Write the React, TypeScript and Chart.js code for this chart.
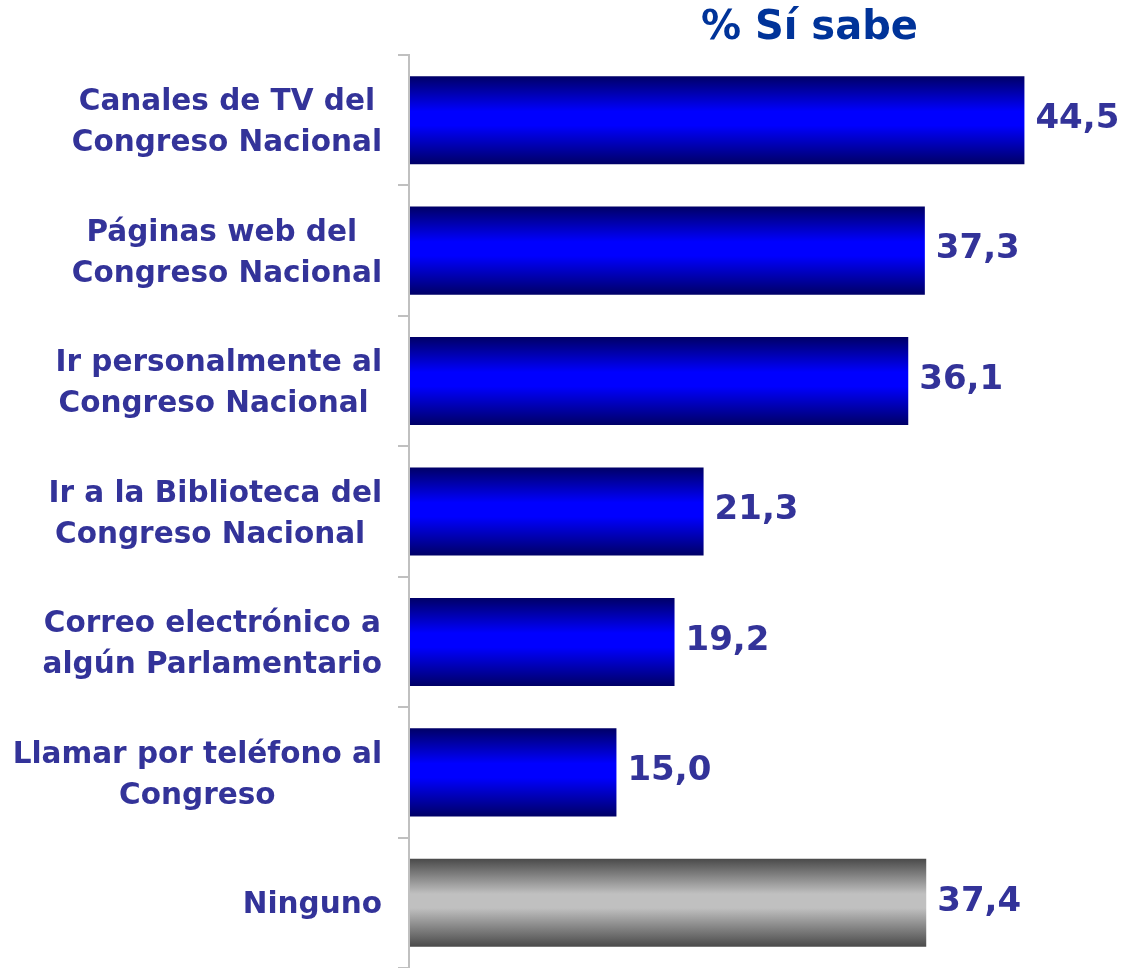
import React, { useEffect, useRef } from "react";
import { Chart, registerables } from "chart.js";

Chart.register(...registerables);

const categories: string[][] = [
  ["Canales de TV del", "Congreso Nacional"],
  ["Páginas web del ", "Congreso Nacional"],
  ["Ir personalmente al", "Congreso Nacional "],
  ["Ir a la Biblioteca del", "Congreso Nacional "],
  ["Correo electrónico a", "algún Parlamentario"],
  ["Llamar por teléfono al", "Congreso"],
  ["Ninguno"],
];
const values: number[] = [44.5, 37.3, 36.1, 21.3, 19.2, 15.0, 37.4];
const barKinds: string[] = ["blue", "blue", "blue", "blue", "blue", "blue", "gray"];
const titleText = "% Sí sabe";

const FONT = "'DejaVu Sans', Verdana, sans-serif";
const LABEL_COLOR = "#333399";
const TITLE_COLOR = "#003399";
const BAR_PCT = 0.675;
const X_MAX = 51.7;

const fmt = (v: number) => v.toFixed(1).replace(".", ",");

const gradientStops: Record<string, string[]> = {
  blue: ["#000066", "#0000ff", "#000066"],
  gray: ["#4a4a4a", "#c0c0c0", "#4a4a4a"],
};

const labelsPlugin = {
  id: "customLabels",
  afterDatasetsDraw(chart: any) {
    const { ctx } = chart;
    const meta = chart.getDatasetMeta(0);
    ctx.save();
    ctx.font = `bold 34px ${FONT}`;
    ctx.fillStyle = LABEL_COLOR;
    ctx.textAlign = "left";
    ctx.textBaseline = "middle";
    meta.data.forEach((bar: any, i: number) => {
      ctx.fillText(fmt(values[i]), bar.x + 11, bar.y - 1);
    });
    ctx.restore();
  },
  afterDraw(chart: any) {
    const { ctx, chartArea } = chart;
    const yScale = chart.scales.y;
    ctx.save();
    // category labels: block right-aligned, lines centred within block
    ctx.font = `bold 29.5px ${FONT}`;
    ctx.fillStyle = LABEL_COLOR;
    ctx.textBaseline = "middle";
    const lineH = 41;
    const rightX = chartArea.left - 27;
    categories.forEach((lines, i) => {
      const cy = yScale.getPixelForTick(i) + 3;
      const blockW = Math.max(...lines.map((l) => ctx.measureText(l).width));
      const cx = rightX - blockW / 2;
      const startY = cy - ((lines.length - 1) * lineH) / 2;
      lines.forEach((l, k) => {
        const w = ctx.measureText(l).width;
        ctx.textAlign = "left";
        ctx.fillText(l, cx - w / 2, startY + k * lineH);
      });
    });
    // title
    ctx.font = `bold 40px ${FONT}`;
    ctx.fillStyle = TITLE_COLOR;
    ctx.textAlign = "center";
    ctx.textBaseline = "middle";
    const tx = chartArea.left + (chartArea.right - chartArea.left) * 0.56;
    ctx.fillText(titleText, tx, 29);
    ctx.restore();
  },
};

export default function App() {
  const ref = useRef<HTMLCanvasElement | null>(null);
  useEffect(() => {
    document.body.style.margin = "0";
    const canvas = ref.current;
    if (!canvas) return;
    const chart = new Chart(canvas, {
      type: "bar",
      data: {
        labels: categories.map((c) => c.join(" ")),
        datasets: [
          {
            data: values,
            backgroundColor: (c: any) => {
              const kind = barKinds[c.dataIndex] || "blue";
              const stops = gradientStops[kind];
              const chartObj = c.chart;
              const ys = chartObj.scales && chartObj.scales.y;
              if (c.type !== "data" || !ys || !chartObj.chartArea) return stops[1];
              const center = ys.getPixelForValue(c.dataIndex);
              const half = ((ys.height / categories.length) * BAR_PCT) / 2;
              const g = chartObj.ctx.createLinearGradient(0, center - half, 0, center + half);
              g.addColorStop(0, stops[0]);
              g.addColorStop(0.4, stops[1]);
              g.addColorStop(0.56, stops[1]);
              g.addColorStop(1, stops[2]);
              return g;
            },
            borderWidth: 0,
            barPercentage: BAR_PCT,
            categoryPercentage: 1,
          },
        ],
      },
      options: {
        indexAxis: "y",
        responsive: false,
        animation: false,
        layout: { padding: { top: 55, right: 0, bottom: 0, left: 0 } },
        plugins: {
          legend: { display: false },
          title: { display: false },
          tooltip: { enabled: false },
        },
        scales: {
          x: {
            display: false,
            min: 0,
            max: X_MAX,
          },
          y: {
            display: true,
            ticks: { display: false },
            grid: {
              drawOnChartArea: false,
              drawTicks: true,
              tickLength: 11,
              color: "#c0c0c0",
              lineWidth: 2,
              offset: true,
            },
            border: { display: true, color: "#c0c0c0", width: 2, z: 1 },
            afterFit: (scale: any) => {
              scale.width = 409;
            },
          },
        },
      },
      plugins: [labelsPlugin],
    });
    return () => chart.destroy();
  }, []);
  return (
    <div style={{ position: "absolute", left: 0, top: 0, width: 1124, height: 968 }}>
      <canvas ref={ref} width={1124} height={968} />
    </div>
  );
}
